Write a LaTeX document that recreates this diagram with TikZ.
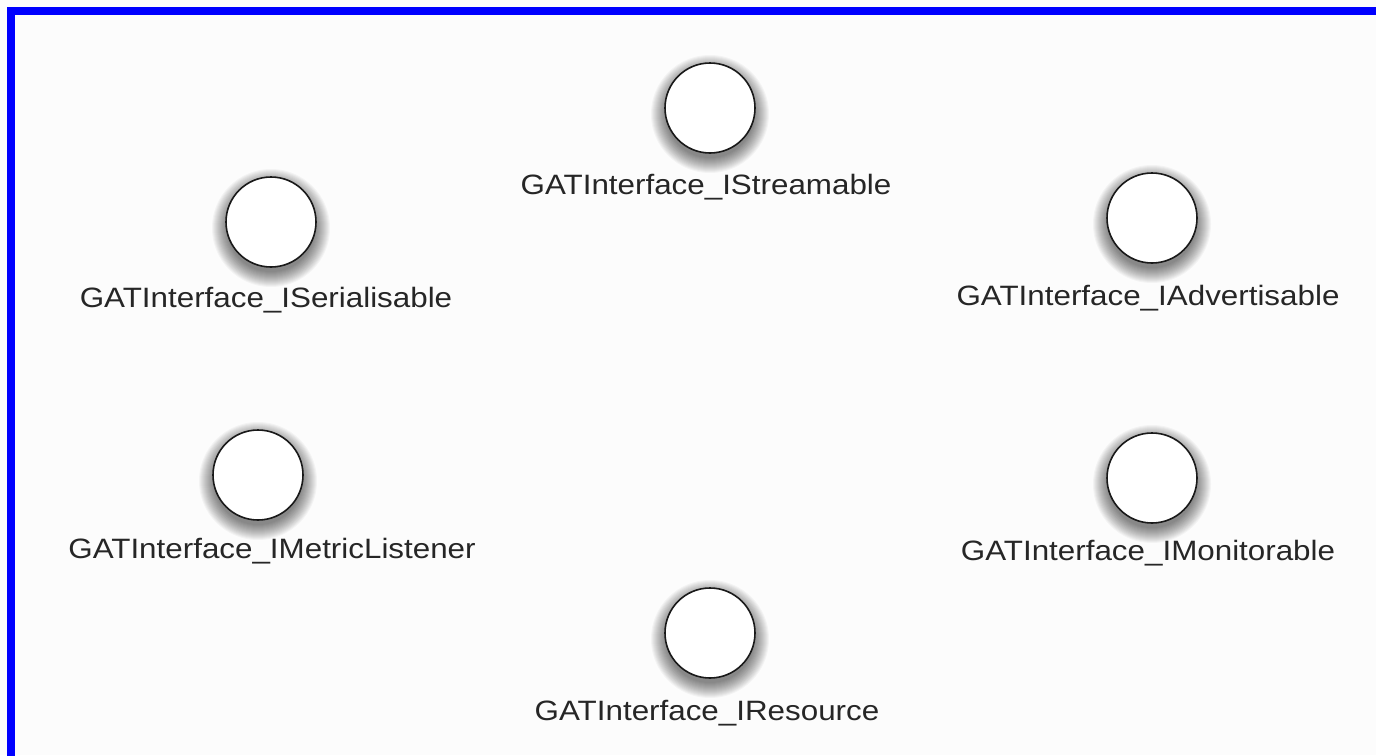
\documentclass[tikz,border=0pt]{standalone}
\usepackage{fontspec}
\setmainfont{Liberation Sans}[FakeStretch=1.12]
\usetikzlibrary{backgrounds}
\tikzset{
  iface/.style={circle, draw=black!90, line width=1.6pt, fill=white,
    minimum size=90pt, inner sep=0pt},
  ilabel/.style={anchor=base, inner sep=0pt, text=black!85,
    font=\fontsize{28}{30}\selectfont},
  softshade/.style={black, opacity=0.035},
}
\begin{document}
\begin{tikzpicture}[x=1pt, y=-1pt]
  \useasboundingbox (0,0) rectangle (1376,755);
  \begin{scope}[on background layer]
    \fill[white!99!black] (0,0) rectangle (1376,755);
  \end{scope}
  \begin{scope}
    \clip (0,0) rectangle (1376,755);
    \draw[blue, line width=8pt] (11,11) rectangle (1400,780);
  \end{scope}

  % interface lollipops
  \node[iface] (stream) at (710,108) {};
  \node[ilabel] (streamL) at (706,194) {GATInterface\_IStreamable};

  \node[iface] (serial) at (271,222) {};
  \node[ilabel] (serialL) at (266,307) {GATInterface\_ISerialisable};

  \node[iface] (advert) at (1152,218) {};
  \node[ilabel] (advertL) at (1148,305) {GATInterface\_IAdvertisable};

  \node[iface] (metric) at (258,475) {};
  \node[ilabel] (metricL) at (272,558) {GATInterface\_IMetricListener};

  \node[iface] (monitor) at (1152,478) {};
  \node[ilabel] (monitorL) at (1148,560) {GATInterface\_IMonitorable};

  \node[iface] (resource) at (710,633) {};
  \node[ilabel] (resourceL) at (707,720) {GATInterface\_IResource};

  % soft drop shadows behind the circles
  \begin{scope}[on background layer]
    \foreach \n in {stream,serial,advert,metric,monitor,resource}
      \foreach \r in {44,...,59}
        \fill[softshade] ([yshift=-6pt]\n.center) circle[radius=\r pt];
  \end{scope}
\end{tikzpicture}
\end{document}
